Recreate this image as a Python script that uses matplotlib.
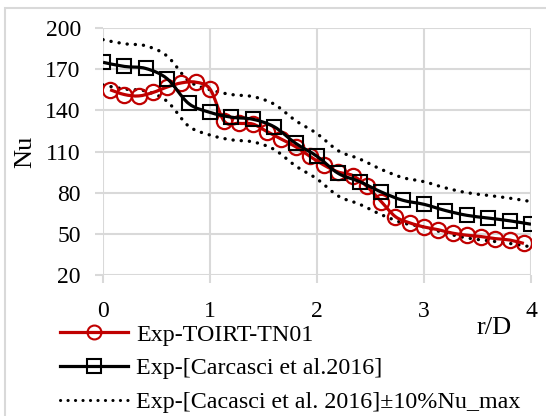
import numpy as np
import matplotlib
matplotlib.use("Agg")
import matplotlib.pyplot as plt
from matplotlib.path import Path
from matplotlib.patches import PathPatch, Rectangle
from matplotlib.lines import Line2D

plt.rcParams['font.family'] = ['Liberation Serif', 'DejaVu Serif']

# data
r_ref = np.linspace(0, 4, 21)  # squares every 0.2
nu_ref = [175, 172, 170.5, 163, 145, 138.5, 135, 133.5, 128, 116, 106.5,
          94, 88, 80.5, 74.5, 71.5, 67, 63.5, 61.5, 59.5, 57]
nu_upper = [191.5, 188.5, 187, 179.5, 161.5, 155, 151.5, 150, 144.5, 132.5, 123,
            110.5, 104.5, 97, 91, 88, 83.5, 80, 78, 76, 73.5]
nu_lower = [158.5, 155.5, 154, 146.5, 128.5, 122, 118.5, 117, 111.5, 99.5, 90,
            77.5, 71.5, 64, 58, 55, 50.5, 47, 45, 43, 40.5]

r_exp = (np.arange(30) + 0.5) * 4 / 30
nu_exp = [155, 151.5, 150.5, 153, 157, 160, 160.5, 155.5, 132, 130.5,
          130, 124.5, 119, 113.5, 106.5, 100, 95, 92.5, 84.5, 73.5,
          62.5, 58, 55, 53, 50.5, 49, 48, 46.5, 45.5, 43]

labels = ['Exp-TOIRT-TN01', 'Exp-[Carcasci et al.2016]',
          'Exp-[Cacasci et al. 2016]\u00b110%Nu_max']

RED = '#C00000'
GRID = '#D9D9D9'


def smooth_path(x, y):
    # excel-like smoothed line: cubic bezier segments through the points
    x = np.asarray(x, float)
    y = np.asarray(y, float)
    pts = np.column_stack([x, y])
    n = len(pts)
    verts = [pts[0]]
    codes = [Path.MOVETO]
    for i in range(n - 1):
        p0 = pts[i - 1] if i > 0 else pts[i]
        p1 = pts[i]
        p2 = pts[i + 1]
        p3 = pts[i + 2] if i + 2 < n else pts[i + 1]
        c1 = p1 + (p2 - p0) / 6.0
        c2 = p2 - (p3 - p1) / 6.0
        verts += [c1, c2, p2]
        codes += [Path.CURVE4] * 3
    return Path(verts, codes)


fig = plt.figure(figsize=(5.46, 4.16), dpi=100)
ax = fig.add_axes([103 / 546, 1 - 275 / 416, 428 / 546, 247 / 416])

# dotted band
for band in (nu_upper, nu_lower):
    ax.add_patch(PathPatch(smooth_path(r_ref, band), fill=False, color='black',
                           lw=2.4, linestyle=(0, (0.05, 2.4)), capstyle='round',
                           zorder=3))

# red experimental curve
ax.add_patch(PathPatch(smooth_path(r_exp, nu_exp), fill=False, color=RED,
                       lw=2.3, zorder=4))
ax.plot(r_exp, nu_exp, ls='none', marker='o', ms=11, mfc='none', mec=RED,
        mew=1.6, zorder=5)

# black reference curve
ax.add_patch(PathPatch(smooth_path(r_ref, nu_ref), fill=False, color='black',
                       lw=2.3, zorder=6))
ax.plot(r_ref, nu_ref, ls='none', marker='s', ms=10.5, mfc='none', mec='black',
        mew=1.5, zorder=7)

ax.set_xlim(0, 4)
ax.set_ylim(20, 200)
ax.set_xticks([0, 1, 2, 3, 4])
ax.set_yticks(np.arange(20, 201, 30))
ax.grid(True, color=GRID, lw=1.5)
for s in ax.spines.values():
    s.set_visible(False)
ax.tick_params(length=6, width=1.5, color=GRID, labelsize=17)
ax.tick_params(axis='x', pad=13)
ax.tick_params(axis='y', pad=10)
ax.set_axisbelow(True)

fig.text(25 / 546, 1 - 152 / 416, 'Nu', rotation=90, fontsize=19,
         ha='center', va='center')
fig.text(494 / 546, 1 - 328 / 416, 'r/D', fontsize=19, ha='center', va='center')

handles = [
    Line2D([], [], color=RED, lw=2.3, marker='o', ms=10, mfc='none', mec=RED, mew=1.5),
    Line2D([], [], color='black', lw=2.3, marker='s', ms=9.5, mfc='none', mec='black', mew=1.5),
    Line2D([], [], color='black', lw=2.2, linestyle=(0, (0.05, 2.4)), dash_capstyle='round'),
]
fig.legend(handles, labels, loc='center left', bbox_to_anchor=(60 / 546, 1 - 368.5 / 416),
           frameon=False, fontsize=17.3, handlelength=2.85, handletextpad=0.33,
           labelspacing=0.5, borderpad=0, borderaxespad=0)

# chart area border
fig.patches.append(Rectangle((5 / 546, -0.1), 1.2, 1 - 8 / 416 + 0.1,
                             transform=fig.transFigure, fill=False,
                             ec=GRID, lw=1.5))

fig.savefig('out.png', dpi=100)
